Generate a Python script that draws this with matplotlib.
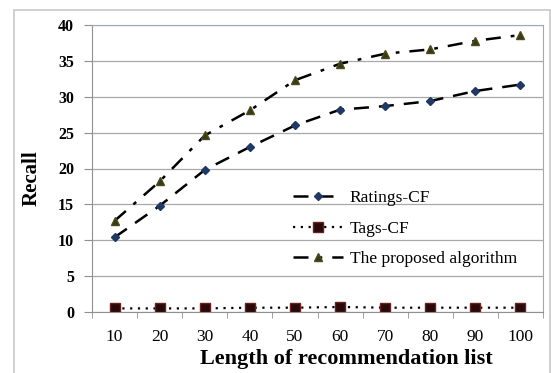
import matplotlib
matplotlib.use("Agg")
import matplotlib.pyplot as plt
from matplotlib.patches import Rectangle
import numpy as np

lengths = ["10", "20", "30", "40", "50", "60", "70", "80", "90", "100"]
ratings_cf = [10.4, 14.8, 19.8, 23.0, 26.0, 28.2, 28.7, 29.4, 30.8, 31.7]
tags_cf = [0.5, 0.5, 0.5, 0.6, 0.6, 0.7, 0.6, 0.6, 0.6, 0.6]
proposed = [12.7, 18.2, 24.6, 28.1, 32.3, 34.6, 36.0, 36.6, 37.8, 38.6]

plt.rcParams['font.family'] = ['Liberation Serif', 'DejaVu Serif']

fig = plt.figure(figsize=(5.51, 3.73), dpi=100)
# outer chart border
fig.patches.append(Rectangle((14/551, -0.01), (550-14)/551, (373-10)/373 + 0.01,
                             transform=fig.transFigure, fill=False,
                             edgecolor='#c8c8c8', linewidth=1.2))

ax = fig.add_axes([92/551, 61/373, 451/551, 287/373])
x = np.arange(len(lengths))

ax.plot(x, ratings_cf, color='black', linestyle=(0, (6, 4)), linewidth=1.8,
        marker='D', markersize=4.5, markerfacecolor='#1f3864',
        markeredgecolor='#1f3864', label='Ratings-CF')
ax.plot(x, tags_cf, color='black', linestyle=(0, (1, 2.5)), linewidth=1.6,
        marker='s', markersize=7, markerfacecolor='#2a0808',
        markeredgecolor='#6b2020', label='Tags-CF')
ax.plot(x, proposed, color='black', linestyle=(0, (6, 4, 1.5, 4)), linewidth=1.8,
        marker='^', markersize=6, markerfacecolor='#3a3a10',
        markeredgecolor='#4a4a20', label='The proposed algorithm')

ax.set_xlim(-0.5, len(lengths) - 0.5)
ax.set_ylim(0, 40)
ax.set_yticks(range(0, 41, 5))
ax.set_xticks(x)
ax.set_xticklabels(lengths, fontsize=12.5)
ax.set_xticks(np.arange(-0.5, len(lengths), 1), minor=True)
ax.tick_params(axis='x', which='major', length=0, pad=12)
ax.tick_params(axis='x', which='minor', length=4, color='#909090', direction='out')
ax.tick_params(axis='y', length=6, color='#909090', labelsize=11.5, pad=7)
for lab in ax.get_yticklabels():
    lab.set_fontweight('bold')

ax.grid(axis='y', color='#a8a8a8', linewidth=0.9)
ax.set_axisbelow(True)
for side in ['left', 'bottom']:
    ax.spines[side].set_color('#909090')
for side in ['top', 'right']:
    ax.spines[side].set_color('#9aa8c0')

ax.set_ylabel('Recall', fontsize=15, fontweight='bold')
ax.yaxis.set_label_coords(-0.112, 0.467)
ax.set_xlabel('Length of recommendation list', fontsize=16, fontweight='bold')
ax.xaxis.set_label_coords(0.563, -0.13)

leg = ax.legend(loc='upper left', bbox_to_anchor=(0.41, 0.48), frameon=False,
                fontsize=12.5, handlelength=2.9, labelspacing=0.83,
                handletextpad=0.4)

fig.savefig('out.png', dpi=100)
